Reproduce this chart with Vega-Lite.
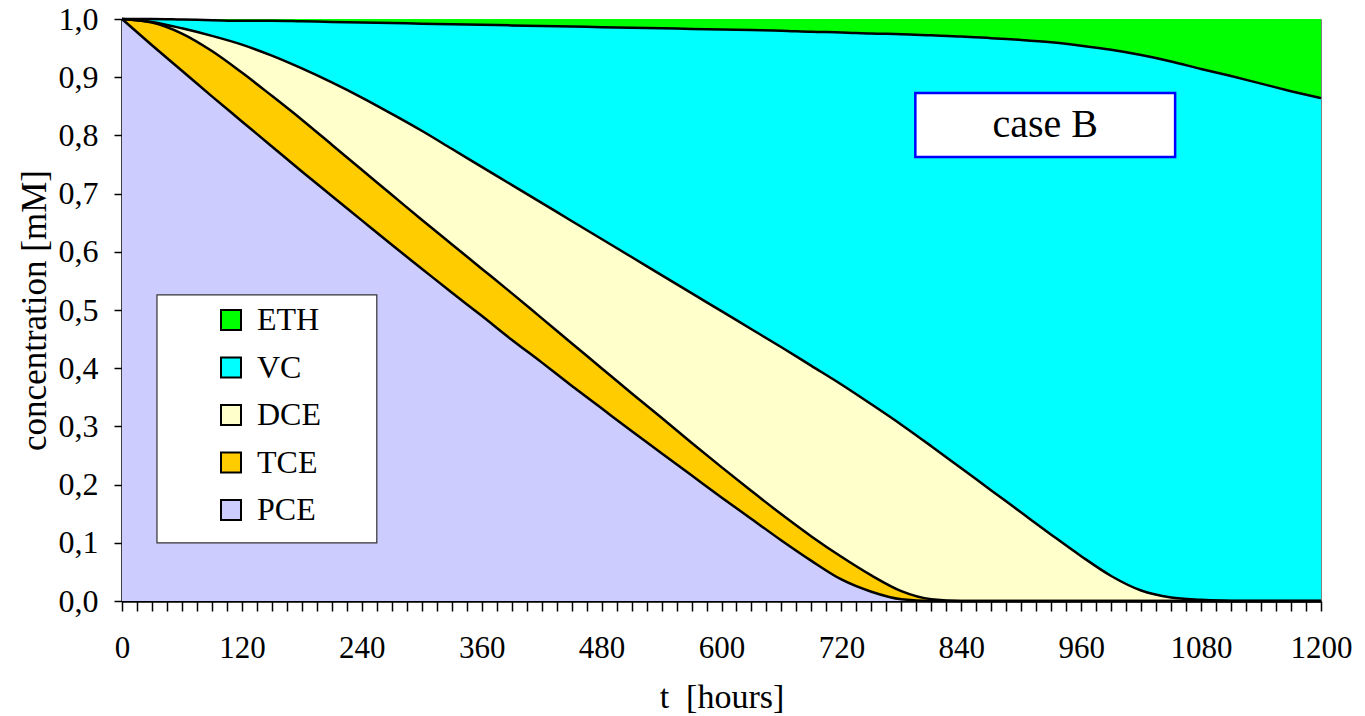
{
  "$schema": "https://vega.github.io/schema/vega-lite/v6.json",
  "width": 1199,
  "height": 582,
  "autosize": {"type": "none"},
  "padding": {"left": 122, "top": 19, "right": 44, "bottom": 115},
  "background": "white",
  "config": {
    "view": {"stroke": "#808080", "strokeWidth": 1},
    "font": "Liberation Serif",
    "axis": {"grid": false, "labelFont": "Liberation Serif", "titleFont": "Liberation Serif", "titleFontWeight": "normal", "labelColor": "black", "titleColor": "black", "domainColor": "black", "tickColor": "black"}
  },
  "datasets": {
    "conc": [
      {"t": 0, "PCE": 1.000, "TCE": 0.000, "DCE": 0.000, "VC": 0.000, "ETH": 0.000},
      {"t": 30, "PCE": 0.955, "TCE": 0.039, "DCE": 0.001, "VC": 0.005, "ETH": 0.000},
      {"t": 60, "PCE": 0.911, "TCE": 0.064, "DCE": 0.009, "VC": 0.015, "ETH": 0.001},
      {"t": 90, "PCE": 0.867, "TCE": 0.078, "DCE": 0.026, "VC": 0.027, "ETH": 0.002},
      {"t": 120, "PCE": 0.824, "TCE": 0.084, "DCE": 0.048, "VC": 0.041, "ETH": 0.003},
      {"t": 150, "PCE": 0.781, "TCE": 0.087, "DCE": 0.069, "VC": 0.060, "ETH": 0.003},
      {"t": 180, "PCE": 0.738, "TCE": 0.089, "DCE": 0.088, "VC": 0.081, "ETH": 0.004},
      {"t": 210, "PCE": 0.696, "TCE": 0.088, "DCE": 0.107, "VC": 0.104, "ETH": 0.005},
      {"t": 240, "PCE": 0.654, "TCE": 0.087, "DCE": 0.124, "VC": 0.129, "ETH": 0.006},
      {"t": 270, "PCE": 0.612, "TCE": 0.086, "DCE": 0.139, "VC": 0.156, "ETH": 0.007},
      {"t": 300, "PCE": 0.571, "TCE": 0.084, "DCE": 0.153, "VC": 0.184, "ETH": 0.008},
      {"t": 330, "PCE": 0.530, "TCE": 0.083, "DCE": 0.164, "VC": 0.214, "ETH": 0.009},
      {"t": 360, "PCE": 0.490, "TCE": 0.081, "DCE": 0.175, "VC": 0.244, "ETH": 0.010},
      {"t": 390, "PCE": 0.449, "TCE": 0.080, "DCE": 0.186, "VC": 0.274, "ETH": 0.011},
      {"t": 420, "PCE": 0.410, "TCE": 0.076, "DCE": 0.198, "VC": 0.304, "ETH": 0.012},
      {"t": 450, "PCE": 0.370, "TCE": 0.073, "DCE": 0.210, "VC": 0.334, "ETH": 0.013},
      {"t": 480, "PCE": 0.331, "TCE": 0.069, "DCE": 0.222, "VC": 0.364, "ETH": 0.014},
      {"t": 510, "PCE": 0.292, "TCE": 0.065, "DCE": 0.234, "VC": 0.394, "ETH": 0.015},
      {"t": 540, "PCE": 0.254, "TCE": 0.061, "DCE": 0.245, "VC": 0.424, "ETH": 0.016},
      {"t": 570, "PCE": 0.216, "TCE": 0.056, "DCE": 0.257, "VC": 0.454, "ETH": 0.017},
      {"t": 600, "PCE": 0.178, "TCE": 0.052, "DCE": 0.268, "VC": 0.484, "ETH": 0.018},
      {"t": 630, "PCE": 0.141, "TCE": 0.048, "DCE": 0.278, "VC": 0.514, "ETH": 0.019},
      {"t": 660, "PCE": 0.104, "TCE": 0.045, "DCE": 0.287, "VC": 0.544, "ETH": 0.020},
      {"t": 690, "PCE": 0.069, "TCE": 0.042, "DCE": 0.293, "VC": 0.574, "ETH": 0.022},
      {"t": 720, "PCE": 0.037, "TCE": 0.039, "DCE": 0.296, "VC": 0.605, "ETH": 0.023},
      {"t": 750, "PCE": 0.016, "TCE": 0.028, "DCE": 0.294, "VC": 0.637, "ETH": 0.025},
      {"t": 780, "PCE": 0.003, "TCE": 0.014, "DCE": 0.286, "VC": 0.671, "ETH": 0.026},
      {"t": 810, "PCE": 0.000, "TCE": 0.003, "DCE": 0.263, "VC": 0.706, "ETH": 0.028},
      {"t": 840, "PCE": 0.000, "TCE": 0.000, "DCE": 0.228, "VC": 0.742, "ETH": 0.030},
      {"t": 870, "PCE": 0.000, "TCE": 0.000, "DCE": 0.190, "VC": 0.777, "ETH": 0.033},
      {"t": 900, "PCE": 0.000, "TCE": 0.000, "DCE": 0.152, "VC": 0.812, "ETH": 0.036},
      {"t": 930, "PCE": 0.000, "TCE": 0.000, "DCE": 0.114, "VC": 0.846, "ETH": 0.040},
      {"t": 960, "PCE": 0.000, "TCE": 0.000, "DCE": 0.077, "VC": 0.877, "ETH": 0.046},
      {"t": 990, "PCE": 0.000, "TCE": 0.000, "DCE": 0.043, "VC": 0.904, "ETH": 0.053},
      {"t": 1020, "PCE": 0.000, "TCE": 0.000, "DCE": 0.018, "VC": 0.920, "ETH": 0.062},
      {"t": 1050, "PCE": 0.000, "TCE": 0.000, "DCE": 0.006, "VC": 0.921, "ETH": 0.073},
      {"t": 1080, "PCE": 0.000, "TCE": 0.000, "DCE": 0.002, "VC": 0.912, "ETH": 0.086},
      {"t": 1110, "PCE": 0.000, "TCE": 0.000, "DCE": 0.000, "VC": 0.902, "ETH": 0.098},
      {"t": 1140, "PCE": 0.000, "TCE": 0.000, "DCE": 0.000, "VC": 0.889, "ETH": 0.111},
      {"t": 1170, "PCE": 0.000, "TCE": 0.000, "DCE": 0.000, "VC": 0.876, "ETH": 0.124},
      {"t": 1200, "PCE": 0.000, "TCE": 0.000, "DCE": 0.000, "VC": 0.864, "ETH": 0.136}
    ],
    "species": [
      {"s": "PCE", "k": 1},
      {"s": "TCE", "k": 2},
      {"s": "DCE", "k": 3},
      {"s": "VC", "k": 4},
      {"s": "ETH", "k": 5}
    ]
  },
  "layer": [
    {
      "data": {"name": "conc"},
      "transform": [
        {"fold": ["PCE", "TCE", "DCE", "VC", "ETH"], "as": ["s", "c"]},
        {"lookup": "s", "from": {"data": {"name": "species"}, "key": "s", "fields": ["k"]}},
        {"stack": "c", "groupby": ["t"], "sort": [{"field": "k", "order": "ascending"}], "as": ["y0", "y1"]}
      ],
      "layer": [
        {
          "mark": {"type": "area", "interpolate": "monotone", "opacity": 1},
          "encoding": {
            "x": {"field": "t", "type": "quantitative", "scale": {"domain": [0, 1200], "nice": false},
              "axis": {"title": "t\u00a0\u00a0[hours]", "tickCount": 500, "values": [0,15,30,45,60,75,90,105,120,135,150,165,180,195,210,225,240,255,270,285,300,315,330,345,360,375,390,405,420,435,450,465,480,495,510,525,540,555,570,585,600,615,630,645,660,675,690,705,720,735,750,765,780,795,810,825,840,855,870,885,900,915,930,945,960,975,990,1005,1020,1035,1050,1065,1080,1095,1110,1125,1140,1155,1170,1185,1200],
                "labelExpr": "datum.value % 120 === 0 ? datum.label : ''", "format": "d",
                "tickSize": 10, "tickWidth": 1.5, "domainWidth": 2.5, "labelFontSize": 31, "labelPadding": 22, "titleFontSize": 34, "titlePadding": 17, "labelOverlap": false, "labelFlush": false, "labelBound": false}},
            "y": {"field": "y1", "type": "quantitative", "scale": {"domain": [0, 1], "nice": false},
              "axis": {"title": "concentration [mM]", "tickCount": 50, "values": [0,0.1,0.2,0.3,0.4,0.5,0.6,0.7,0.8,0.9,1], "format": ".1f",
                "labelExpr": "replace(datum.label, '.', ',')", "tickSize": 8, "tickWidth": 1.5, "domainWidth": 2.5, "labelFontSize": 32, "labelPadding": 16, "titleFontSize": 35, "titlePadding": 6, "labelOverlap": false, "labelFlush": false, "labelBound": false}},
            "y2": {"field": "y0"},
            "color": {"field": "s", "type": "nominal",
              "scale": {"domain": ["ETH", "VC", "DCE", "TCE", "PCE"], "range": ["#00ff00", "#00ffff", "#ffffcc", "#ffcc00", "#ccccff"]},
              "legend": {"title": null, "orient": "none", "legendX": 35, "legendY": 272, "symbolType": "square", "symbolSize": 400, "symbolStrokeColor": "black", "symbolStrokeWidth": 2, "symbolOpacity": 1, "symbolFillOpacity": 1,
                "labelFont": "Liberation Serif", "labelFontSize": 32, "labelColor": "black", "padding": 13, "symbolOffset": 45, "labelOffset": 10, "rowPadding": 15.5}}
          }
        },
        {
          "transform": [{"filter": "datum.s !== 'ETH'"}],
          "mark": {"type": "line", "interpolate": "monotone", "color": "black", "strokeWidth": 2.5},
          "encoding": {
            "x": {"field": "t", "type": "quantitative"},
            "y": {"field": "y1", "type": "quantitative"},
            "detail": {"field": "s"}
          }
        }
      ]
    },
    {
      "data": {"values": [{"label": "case B"}]},
      "layer": [
        {
          "mark": {"type": "rect", "fill": "white", "stroke": "#0000ff", "strokeWidth": 2.5},
          "encoding": {
            "x": {"datum": 794, "type": "quantitative"},
            "x2": {"datum": 1054},
            "y": {"datum": 0.873, "type": "quantitative"},
            "y2": {"datum": 0.763}
          }
        },
        {
          "mark": {"type": "text", "font": "Liberation Serif", "fontSize": 40, "color": "black", "align": "center", "baseline": "middle"},
          "encoding": {
            "x": {"datum": 924, "type": "quantitative"},
            "y": {"datum": 0.818, "type": "quantitative"},
            "text": {"field": "label"}
          }
        },
        {
          "mark": {"type": "rect", "fill": "white", "stroke": "#333333", "strokeWidth": 1.2},
          "encoding": {
            "x": {"datum": 35, "type": "quantitative"},
            "x2": {"datum": 255},
            "y": {"datum": 0.526, "type": "quantitative"},
            "y2": {"datum": 0.0997}
          }
        }
      ]
    }
  ]
}
